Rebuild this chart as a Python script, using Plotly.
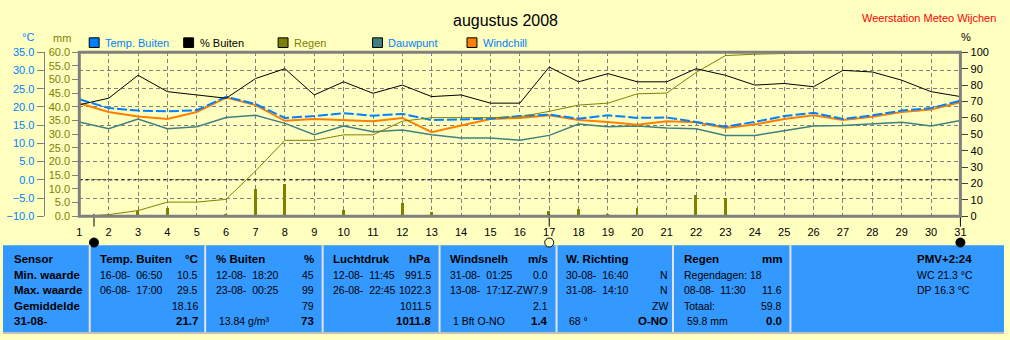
import plotly.graph_objects as go

W, H = 1010, 340
BG = "#ffffc0"
PANEL = "#3399ff"
GRID = "#808080"
BLUE = "#0080ff"
OLIVE = "#808000"
ORANGE = "#ff8000"
TEAL = "#408080"

# ---- daily series, August 2008 ----
days = list(range(1, 32))
day_labels = [str(d) for d in days]

temp_out = [22.1, 19.7, 19.0, 18.8, 19.1, 22.8, 20.8, 17.0, 17.5, 18.3,
            17.6, 18.1, 16.4, 16.7, 16.8, 17.5, 17.9, 16.8, 17.7, 17.0,
            17.1, 15.9, 14.6, 15.9, 17.5, 18.4, 16.7, 17.7, 19.0, 19.7, 21.7]
windchill = [21.0, 18.6, 17.4, 16.7, 18.6, 22.6, 20.5, 16.2, 16.7, 16.4,
             16.1, 17.0, 13.1, 14.9, 16.7, 17.0, 17.7, 16.4, 15.9, 15.1,
             16.1, 15.8, 14.2, 15.2, 16.7, 17.7, 16.4, 17.3, 18.6, 19.3, 21.3]
dewpoint = [15.9, 14.0, 16.7, 14.0, 14.6, 17.1, 17.7, 15.5, 12.4, 14.8,
            13.2, 13.7, 12.4, 11.5, 11.5, 10.9, 12.2, 15.3, 14.6, 14.8,
            14.2, 14.0, 12.2, 12.2, 13.5, 14.8, 14.9, 15.3, 15.8, 14.8, 16.3]
humidity = [68, 72, 86, 76, 74, 72, 84, 90, 74, 82,
            75, 80, 73, 74, 69, 69, 91, 82, 87, 82,
            82, 90, 86, 80, 81, 79, 89, 88, 83, 76, 73]
rain_daily = [0.0, 0.5, 2.0, 3.0, 0.0, 0.6, 9.8, 11.6, 0.0, 2.1,
              0.0, 4.8, 1.3, 0.0, 0.0, 0.0, 2.0, 2.5, 0.6, 3.1,
              0.0, 7.6, 6.5, 0.0, 0.0, 0.0, 0.0, 0.0, 0.0, 0.0, 0.0]
rain_total = [0.0, 0.6, 2.1, 5.2, 5.2, 6.2, 16.6, 27.8, 27.8, 29.8,
              29.8, 34.8, 36.1, 36.1, 36.1, 36.4, 38.4, 40.7, 41.4, 44.8,
              45.1, 52.6, 58.8, 59.3, 59.6, 59.8, 59.8, 59.8, 59.8, 59.8, 59.8]

# moon phases: new moon, full moon, new moon
moon_days = [1.5, 17.0, 31.0]
moon_full = [False, True, False]

# ---- legend ----
legend_names = ["Temp. Buiten", "% Buiten", "Regen", "Dauwpunt", "Windchill"]
legend_swatch = [BLUE, "#000000", OLIVE, TEAL, ORANGE]
legend_text = [BLUE, "#000000", OLIVE, BLUE, BLUE]

# ---- summary table ----
row_heads = ["Sensor", "Min. waarde", "Max. waarde", "Gemiddelde", "31-08-"]
NB = "\u00a0"
table_cols = [
    ("Temp. Buiten", "°C", ["16-08-" + NB * 2 + "06:50", "06-08-" + NB * 2 + "17:00", "", ""],
     ["10.5", "29.5", "18.16", "21.7"]),
    ("% Buiten", "%", ["12-08-" + NB * 2 + "18:20", "23-08-" + NB * 2 + "00:25", "", NB + "13.84 g/m³"],
     ["45", "99", "79", "73"]),
    ("Luchtdruk", "hPa", ["12-08-" + NB * 2 + "11:45", "26-08-" + NB * 2 + "22:45", "", ""],
     ["991.5", "1022.3", "1011.5", "1011.8"]),
    ("Windsnelh", "m/s", ["31-08-" + NB * 2 + "01:25", "13-08-" + NB * 2 + "17:1Z-ZW", "", NB + "1 Bft O-NO"],
     ["0.0", "7.9", "2.1", "1.4"]),
    ("W. Richting", "", ["30-08-" + NB * 2 + "16:40", "31-08-" + NB * 2 + "14:10", "", NB + "68 °"],
     ["N", "N", "ZW", "O-NO"]),
    ("Regen", "mm", ["Regendagen: 18", "08-08-" + NB * 2 + "11:30", "Totaal:", NB + "59.8 mm"],
     ["", "11.6", "59.8", "0.0"]),
]
pmv_lines = ["PMV+2:24", "WC 21.3 °C", "DP 16.3 °C"]


def px(x):
    return x / W


def py(y):
    return 1 - y / H


# plot frame in pixels
PL, PR, PT, PB = 77, 966, 48, 218
# strip under the day axis that carries the moon symbols
STRIP_BOTTOM = 252

fig = go.Figure()

fig.add_trace(go.Bar(x=days, y=rain_daily, yaxis="y2", width=0.1,
                     marker=dict(color=OLIVE, line=dict(width=0)), showlegend=False))
fig.add_trace(go.Scatter(x=days, y=rain_total, yaxis="y2", mode="lines",
                         line=dict(color=OLIVE, width=1), showlegend=False))
fig.add_trace(go.Scatter(x=days, y=dewpoint, mode="lines",
                         line=dict(color=TEAL, width=1.5), showlegend=False))
fig.add_trace(go.Scatter(x=days, y=windchill, mode="lines",
                         line=dict(color=ORANGE, width=2), showlegend=False))
fig.add_trace(go.Scatter(x=days, y=temp_out, mode="lines",
                         line=dict(color=BLUE, width=2, dash="10px,3px"), showlegend=False))
fig.add_trace(go.Scatter(x=days, y=humidity, yaxis="y3", mode="lines",
                         line=dict(color="#000000", width=1), showlegend=False))

# moon phase symbols: short tick at the axis, disc below the day numbers
fig.add_trace(go.Scatter(x=moon_days, y=[0.88] * len(moon_days), xaxis="x2", yaxis="y4",
                         mode="markers", cliponaxis=False, showlegend=False,
                         marker=dict(symbol="line-ns", size=9,
                                     line=dict(color="#000000", width=1))))
fig.add_trace(go.Scatter(x=moon_days, y=[0.2] * len(moon_days), xaxis="x2", yaxis="y4",
                         mode="markers", cliponaxis=False, showlegend=False,
                         marker=dict(symbol="circle", size=9,
                                     color=[BG if f else "#000000" for f in moon_full],
                                     line=dict(color="#000000", width=1))))

shapes = []
annotations = []

# summary panel
shapes.append(dict(type="rect", xref="paper", yref="paper", x0=0, x1=1,
                   y0=py(338), y1=py(248), fillcolor=PANEL, line=dict(width=0), layer="below"))
shapes.append(dict(type="line", xref="paper", yref="paper", x0=0, x1=1,
                   y0=py(339), y1=py(339), line=dict(color="#c0c0c0", width=2)))
for xd in [87.5, 204, 322.5, 440.5, 558.5, 676, 794.5]:
    shapes.append(dict(type="line", xref="paper", yref="paper", x0=px(xd), x1=px(xd),
                       y0=py(248), y1=py(338), line=dict(color="#e4e4e4", width=2)))

# freezing line
shapes.append(dict(type="line", xref="paper", x0=px(PL), x1=px(PR), yref="y", y0=0, y1=0,
                   line=dict(color="#000000", width=1, dash="3px,3px")))
# heavy frame
shapes.append(dict(type="rect", xref="paper", yref="paper", x0=px(PL), x1=px(PR),
                   y0=py(PB), y1=py(PT), line=dict(color=GRID, width=3)))

# custom legend
for i, (name, sw, tc) in enumerate(zip(legend_names, legend_swatch, legend_text)):
    x0 = 87 + 95.3 * i
    shapes.append(dict(type="rect", xref="paper", yref="paper",
                       x0=px(x0), x1=px(x0 + 10), y0=py(43), y1=py(33),
                       fillcolor=sw, line=dict(color="#000000", width=1)))
    annotations.append(dict(xref="paper", yref="paper", x=px(x0 + 14), y=py(38),
                            text=name, showarrow=False, xanchor="left", yanchor="middle",
                            font=dict(size=11, color=tc)))

annotations += [
    dict(xref="paper", yref="paper", x=px(507), y=py(15), text="augustus 2008",
         showarrow=False, xanchor="center", yanchor="middle",
         font=dict(size=16, color="#000000")),
    dict(xref="paper", yref="paper", x=px(1004), y=py(12), text="Weerstation Meteo Wijchen",
         showarrow=False, xanchor="right", yanchor="middle", font=dict(size=11, color="#ff0000")),
    dict(xref="paper", yref="paper", x=px(25), y=py(32), text="°C", showarrow=False,
         xanchor="center", yanchor="middle", font=dict(size=11, color=BLUE)),
    dict(xref="paper", yref="paper", x=px(60), y=py(33), text="mm", showarrow=False,
         xanchor="center", yanchor="middle", font=dict(size=11, color=OLIVE)),
    dict(xref="paper", yref="paper", x=px(972), y=py(32), text="%", showarrow=False,
         xanchor="center", yanchor="middle", font=dict(size=11, color="#000000")),
]

# table text
row_y = [262.5, 278.5, 294.5, 310.5, 326.5]
BOLD = dict(size=11.5, color="#000000", weight="bold")
NORM = dict(size=10.5, color="#000000")


def txt(x, y, s, anchor, font):
    annotations.append(dict(xref="paper", yref="paper", x=px(x), y=py(y), text=s,
                            showarrow=False, xanchor=anchor, yanchor="middle", font=font))


for r, s in enumerate(row_heads):
    txt(9, row_y[r], s, "left", BOLD)

col_pos = [(95.5, 198.5), (212.5, 315.5), (331, 434), (449, 552), (566.5, 672.5), (685, 788.5)]
for (head, unit, lefts, rights), (xl, xr) in zip(table_cols, col_pos):
    txt(xl, row_y[0], head, "left", BOLD)
    if unit:
        txt(xr, row_y[0], unit, "right", BOLD)
    for k in range(4):
        if lefts[k]:
            txt(xl, row_y[k + 1], lefts[k], "left", NORM)
        if rights[k]:
            txt(xr, row_y[k + 1], rights[k], "right", BOLD if k == 3 else NORM)

for k, s in enumerate(pmv_lines):
    txt(920, row_y[k], s, "left", BOLD if k == 0 else NORM)

fig.update_layout(
    width=W, height=H,
    margin=dict(l=0, r=0, t=0, b=0, pad=0),
    paper_bgcolor=BG, plot_bgcolor=BG,
    font=dict(family="Liberation Sans, Arial, sans-serif", size=11, color="#000000"),
    showlegend=False, bargap=0,
    xaxis=dict(domain=[px(PL), px(PR)], range=[1, 31], tickvals=days, ticktext=day_labels,
               showgrid=True, gridcolor=GRID, griddash="4px,3px", gridwidth=1,
               zeroline=False, showline=False, ticks="", ticklabelstandoff=8,
               tickfont=dict(size=11, color="#000000"), fixedrange=True),
    xaxis2=dict(domain=[px(PL), px(PR)], range=[1, 31], anchor="y4", visible=False,
                showgrid=False, zeroline=False),
    yaxis=dict(domain=[1 - PB / H, 1 - PT / H], range=[-10, 35], tick0=-10, dtick=5,
               anchor="free", position=px(41), side="left", tickformat=".1f",
               showline=True, linecolor=GRID, linewidth=1,
               ticks="outside", ticklen=7, tickcolor=GRID,
               tickfont=dict(size=11, color=BLUE),
               showgrid=True, gridcolor=GRID, griddash="4px,3px", gridwidth=1, zeroline=False),
    yaxis2=dict(overlaying="y", anchor="x", side="left", range=[0, 60], tick0=0, dtick=5,
                tickformat=".1f", ticks="outside", ticklen=6, tickcolor=GRID,
                tickfont=dict(size=11, color=OLIVE), showgrid=False, zeroline=False, showline=False),
    yaxis3=dict(overlaying="y", anchor="x", side="right", range=[0, 100], tick0=0, dtick=10,
                ticks="outside", ticklen=7, tickcolor="#404040",
                tickfont=dict(size=11, color="#000000"), showgrid=False, zeroline=False, showline=False),
    yaxis4=dict(domain=[py(STRIP_BOTTOM), py(PB)], range=[0, 1], anchor="x2", visible=False,
                showgrid=False, zeroline=False),
    shapes=shapes, annotations=annotations,
)

fig.write_html("out.html")
